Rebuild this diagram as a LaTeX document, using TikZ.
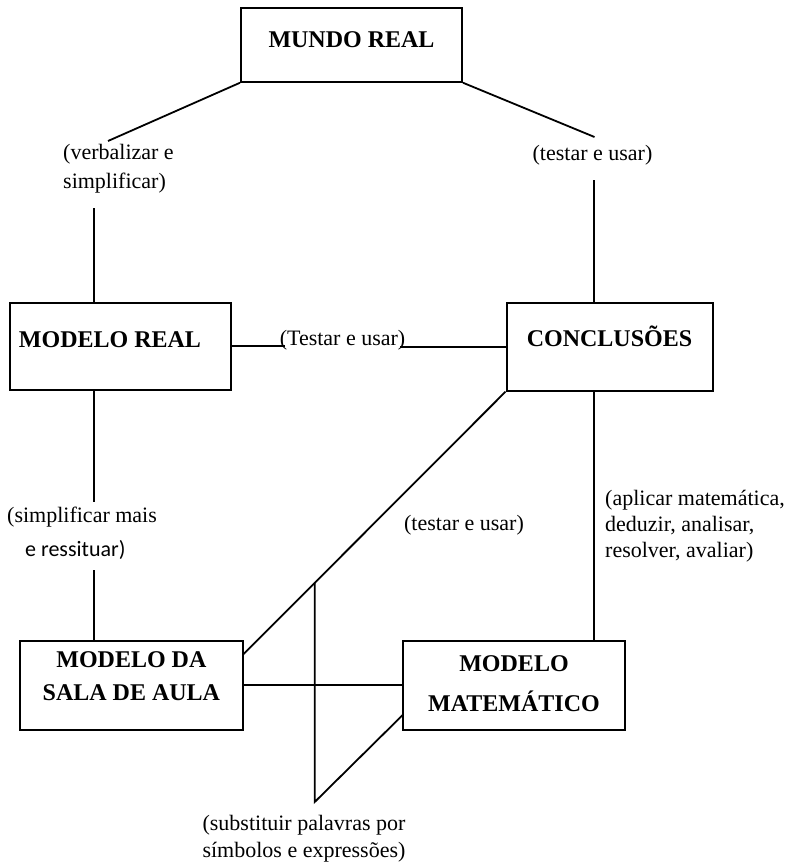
\documentclass[tikz,border=0pt]{standalone}
\usepackage{fontspec}
\setmainfont{Liberation Serif}
\newfontfamily\calibrifont{Carlito}
\usetikzlibrary{positioning, calc}

\begin{document}
\begin{tikzpicture}[
    x=1pt, y=-1pt,
    box/.style={rectangle, draw, line width=2pt, inner sep=0pt,
                align=center, text height=16pt,
                font=\fontsize{24}{28}\selectfont\bfseries},
    lbl/.style={inner sep=0pt, font=\fontsize{22}{26}\selectfont},
    link/.style={line width=1.8pt},
]
\useasboundingbox (0,0) rectangle (788,862);

% the five boxes
\node[box, minimum width=221pt, minimum height=73.5pt, text depth=12pt]   (mundo)  at (351.5,45)    {MUNDO REAL};
\node[box, minimum width=221pt, minimum height=87.3pt, text depth=14.6pt] (modreal) at (120.5,346.3) {MODELO REAL\hspace{21pt}};
\node[box, minimum width=206pt, minimum height=87.4pt, text depth=16.6pt] (concl)  at (609.5,347)   {CONCLUSÕES};
\node[box, minimum width=222.7pt, minimum height=89.3pt, text height=30.8pt, text depth=0pt] (sala)  at (131.4,685.3) {MODELO DA\\[5pt]SALA DE AULA};
\node[box, minimum width=222pt, minimum height=88.5pt, text height=52.8pt, text depth=0pt]   (matem) at (514,685.3)   {MODELO\\[12pt]MATEMÁTICO};

% labels on the links
\node[lbl, anchor=base west, align=left, font=\fontsize{22}{28.5}\selectfont] (lverb) at (63,188) {(verbalizar e\\simplificar)};
\node[lbl, anchor=base] (ltopr)  at (592.5,160.7) {(testar e usar)};
\node[lbl, anchor=base] (ltest)  at (342.5,345)   {(Testar e usar)};
\node[lbl, anchor=base west, align=left] (lsimp) at (7,556) {(simplificar mais\\[8pt]\hspace*{18pt}{\calibrifont e ressituar)}};
\node[lbl, anchor=base] (ltest2) at (464,530)     {(testar e usar)};
\node[lbl, anchor=base west, align=left] (laplic) at (605,557) {(aplicar matemática,\\deduzir, analisar,\\resolver, avaliar)};
\node[lbl, anchor=base, align=center, font=\fontsize{22}{27}\selectfont] (lsubst) at (304,857) {(substituir palavras por\\símbolos e expressões)};

% free ends of the links
\coordinate (vl1) at (108,141);
\coordinate (vl2) at (94,208);
\coordinate (vr1) at (594.5,137);
\coordinate (vr2) at (594,180);
\coordinate (sl1) at (94,502);
\coordinate (sl2) at (94,570);
\coordinate (dg)  at (242.7,655);
\coordinate (dgv) at ($(concl.south west)!0.726!(dg)$);
\coordinate (sb)  at (315,802);
\coordinate (sm)  at (402.7,715);

\draw[link] (mundo.south west) -- (vl1);
\draw[link] (vl2) -- (modreal.north -| vl2);
\draw[link] (mundo.south east) -- (vr1);
\draw[link] (vr2) -- (concl.north -| vr2);
\draw[link] (modreal.east) -- ([xshift=5pt]ltest.west |- modreal.east);
\draw[link] ([xshift=-5pt]ltest.east |- concl.west) -- (concl.west);
\draw[link] (modreal.south -| sl1) -- (sl1);
\draw[link] (sl2) -- (sala.north -| sl2);
\draw[link] (concl.south west) -- (dg);
\draw[link] (concl.south -| vr2) -- (matem.north -| vr2);
\draw[link] (sala.east) -- (matem.west);
\draw[link] (dgv) -- (dgv |- sb) -- (sm);
\end{tikzpicture}
\end{document}
